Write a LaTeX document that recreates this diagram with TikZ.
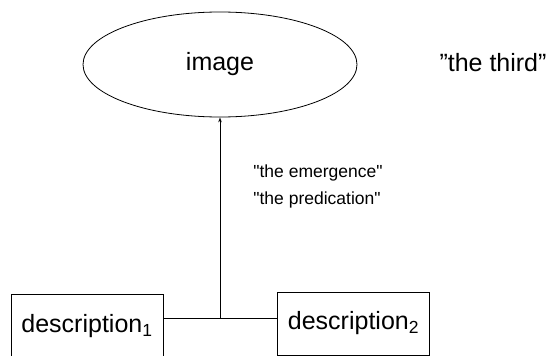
\documentclass[tikz,border=0pt]{standalone}
\usepackage{fontspec}
\setmainfont{Liberation Sans}
\usetikzlibrary{arrows.meta,calc,positioning,shapes.geometric}

\begin{document}
\begin{tikzpicture}[x=1pt,y=-1pt,>={Stealth[length=5pt,width=3.5pt]},line width=0.8pt]
  \tikzset{descbox/.style={draw,minimum width=152pt,minimum height=63pt,inner sep=0pt,font=\fontsize{25}{29}\selectfont},
           note/.style={anchor=west,inner sep=0pt,font=\fontsize{17.5}{20}\selectfont}}
  \useasboundingbox (0,0) rectangle (550,356);
  \node[draw,ellipse,minimum width=274pt,minimum height=105pt,inner sep=0pt,font=\fontsize{25}{29}\selectfont] (img) at (220,64.5) {image};
  \node[font=\fontsize{25}{29}\selectfont] (third) at (493,63) {”the third”};
  \node[descbox] (d1) at (87,326) {description\textsubscript{1}};
  \node[descbox] (d2) at (353.5,323.5) {description\textsubscript{2}};
  \coordinate (join) at (220,318.5);
  \draw (d1.east |- join) -- (d2.west |- join);
  \draw[->] (join) -- (img.south);
  \node[note] (emerge) at (253,173) {\textquotedbl the emergence\textquotedbl};
  \node[note] (predic) at (253,200) {\textquotedbl the predication\textquotedbl};
\end{tikzpicture}
\end{document}
